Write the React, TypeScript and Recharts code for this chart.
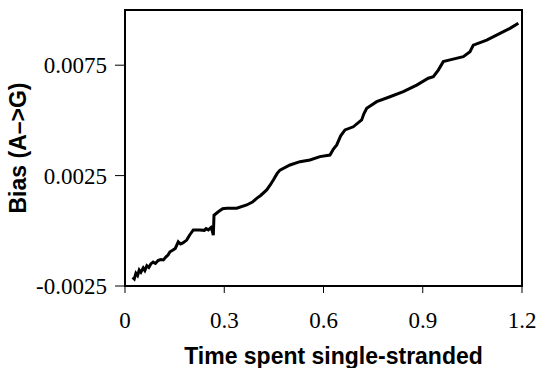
import React from 'react';
import { LineChart, Line, XAxis, YAxis, ReferenceArea } from 'recharts';

const timeValues = [
  0.023, 0.028, 0.033, 0.038, 0.043, 0.048, 0.055, 0.06, 0.066, 0.072, 0.078, 0.085,
  0.092, 0.1, 0.108, 0.116, 0.124, 0.13, 0.136, 0.144, 0.152, 0.161, 0.168, 0.175,
  0.1865, 0.195, 0.2065, 0.225, 0.24, 0.245, 0.252, 0.26, 0.263, 0.267, 0.269, 0.282,
  0.295, 0.3074, 0.3376, 0.3679, 0.385, 0.398, 0.41, 0.4283, 0.44, 0.4483, 0.46, 0.4685,
  0.4987, 0.529, 0.559, 0.5894, 0.6196, 0.63, 0.64, 0.652, 0.665, 0.69, 0.7154, 0.722,
  0.7306, 0.7608, 0.801, 0.8412, 0.8817, 0.9168, 0.932, 0.947, 0.962, 0.9824, 1.0226,
  1.0428, 1.0528, 1.0933, 1.1335, 1.1637, 1.189,
];

const biasValues = [
  -0.00211, -0.00218, -0.00192, -0.00202, -0.00178, -0.00188, -0.00168, -0.0018, -0.00158,
  -0.00166, -0.0015, -0.00142, -0.00148, -0.00135, -0.0013, -0.00132, -0.00118, -0.0011,
  -0.00095, -0.00088, -0.0008, -0.0005, -0.0006, -0.00055, -0.00042, -0.0002, 0.00004,
  0.00004, 0.00002, 0.0001, 0.00004, 0.00015, 0.00004, -0.0002, 0.0007, 0.00086, 0.001,
  0.00102, 0.00102, 0.00117, 0.0013, 0.00147, 0.0016, 0.00185, 0.0021, 0.0023, 0.0026,
  0.00275, 0.00298, 0.00313, 0.00321, 0.00336, 0.00343, 0.0037, 0.00389, 0.0043, 0.00457,
  0.00471, 0.00502, 0.0053, 0.00555, 0.00585, 0.00607, 0.0063, 0.0066, 0.00691, 0.00698,
  0.00728, 0.00766, 0.00774, 0.00789, 0.00811, 0.00841, 0.00864, 0.00894, 0.00917, 0.0094,
];

const xTicks = [0, 0.3, 0.6, 0.9, 1.2];
const yTicks = [-0.0025, 0.0025, 0.0075];

const data = timeValues.map((t, i) => ({ t, bias: biasValues[i] }));

const serif = '"Liberation Serif", "Times New Roman", serif';
const sans = '"Liberation Sans", Arial, sans-serif';

export default function App() {
  return (
    <div style={{ position: 'absolute', left: 0, top: 0, width: 541, height: 368, background: '#fff' }}>
      <LineChart width={541} height={368} data={data} margin={{ top: 10, right: 19, bottom: 0, left: 0 }}>
        <XAxis
          dataKey="t"
          type="number"
          domain={[0, 1.2]}
          ticks={xTicks}
          tickFormatter={(v) => (v === 0 ? '0' : v.toFixed(1))}
          height={82}
          tickSize={7}
          tickMargin={19}
          axisLine={{ stroke: '#000', strokeWidth: 2 }}
          tickLine={{ stroke: '#000' }}
          tick={{ fill: '#000', fontFamily: serif, fontSize: 23 }}
          label={{
            value: 'Time spent single-stranded',
            position: 'insideBottom',
            offset: 4,
            dx: 10,
            style: { fill: '#000', fontFamily: sans, fontSize: 23, fontWeight: 'bold' },
          }}
        />
        <YAxis
          type="number"
          domain={[-0.0025, 0.01]}
          ticks={yTicks}
          tickFormatter={(v) => v.toFixed(4)}
          width={125}
          tickSize={10}
          tickMargin={8}
          axisLine={{ stroke: '#000', strokeWidth: 2 }}
          tickLine={{ stroke: '#000' }}
          tick={{ fill: '#000', fontFamily: serif, fontSize: 23 }}
          label={{
            value: 'Bias (A–>G)',
            angle: -90,
            position: 'insideLeft',
            offset: 18,
            style: { fill: '#000', fontFamily: sans, fontSize: 23, fontWeight: 'bold', textAnchor: 'middle' },
          }}
        />
        <ReferenceArea
          x1={0}
          x2={1.2}
          y1={-0.0025}
          y2={0.01}
          fill="none"
          stroke="#000"
          strokeWidth={2}
          ifOverflow="visible"
        />
        <Line
          type="linear"
          dataKey="bias"
          stroke="#000"
          strokeWidth={3}
          dot={false}
          isAnimationActive={false}
        />
      </LineChart>
    </div>
  );
}
